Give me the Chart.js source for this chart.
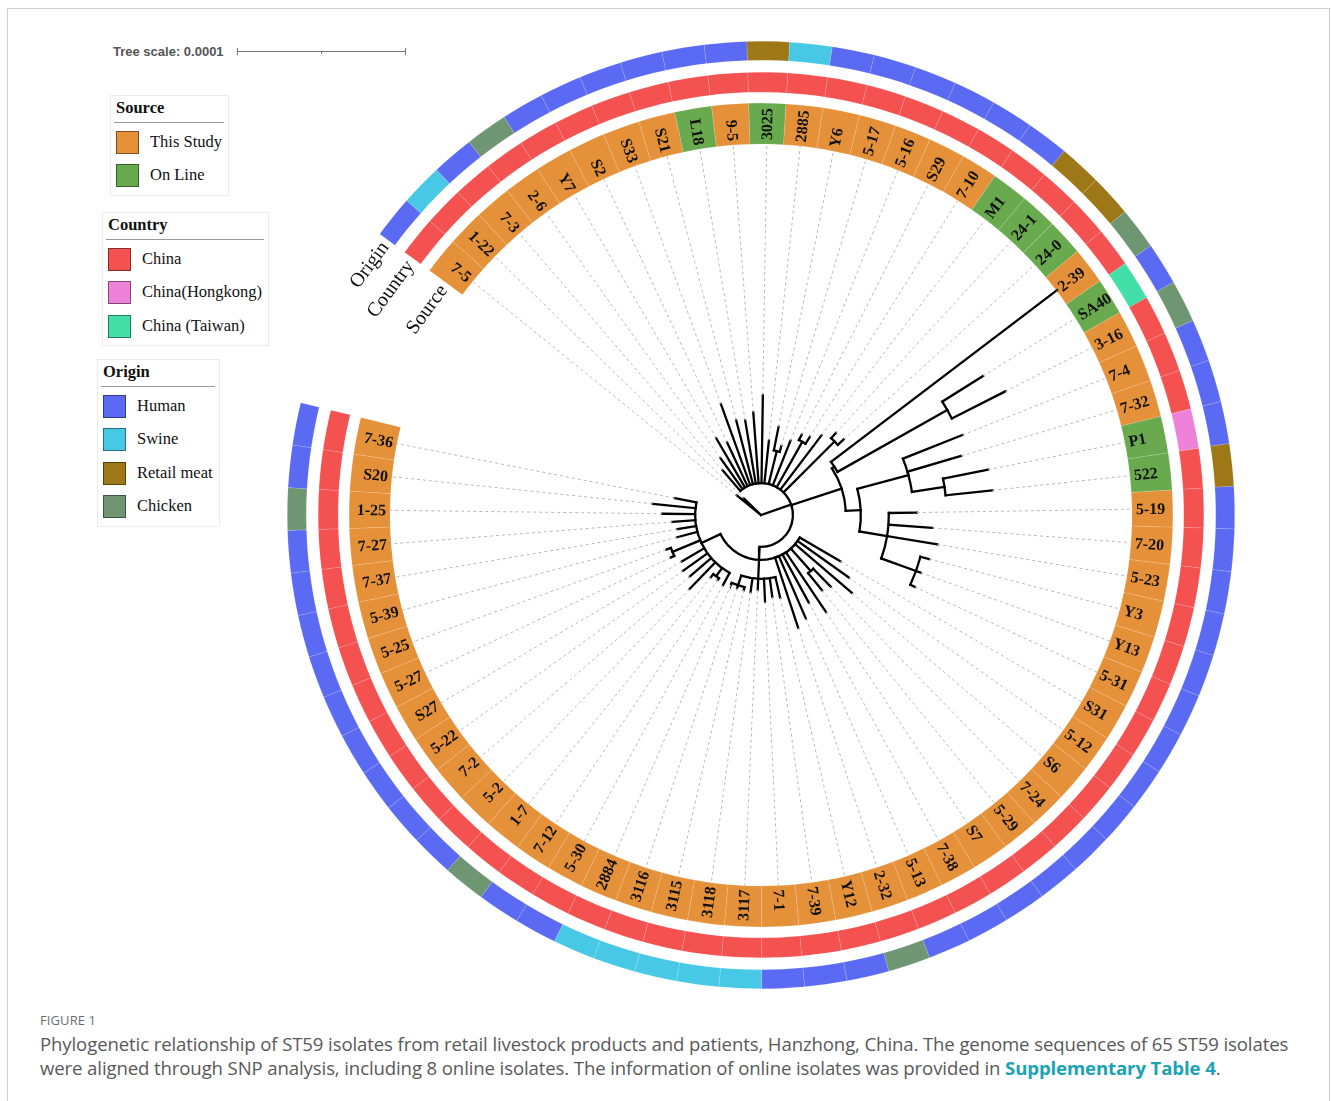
<!DOCTYPE html>
<html>
<head>
<meta charset="utf-8">
<title>ST59 phylogeny</title>
<script src="https://cdn.jsdelivr.net/npm/chart.js@4.4.1/dist/chart.umd.min.js"></script>
<style>
  html, body { margin: 0; padding: 0; background: #fff; }
  #figure { position: relative; width: 1331px; height: 1101px; overflow: hidden; font-family: "Liberation Serif", serif; }
  .frame { position: absolute; left: 7px; top: 8px; width: 1323px; height: 1120px; border: 1px solid #cfcfcf; box-sizing: border-box; }
  canvas { position: absolute; left: 287px; top: 41px; }
  .scale-text { position: absolute; left: 113px; top: 44px; font: bold 13px "Liberation Sans", Arial, sans-serif; color: #555; }
  .scale-bar { position: absolute; left: 237px; top: 51px; height: 0; border-top: 1.4px solid #777; }
  .scale-bar i { position: absolute; top: -4px; width: 0; height: 7px; border-left: 1.4px solid #777; }
  .scale-bar i.mid { top: -1px; height: 3px; }
  .legend { position: absolute; border: 1px solid #ececec; background: #fff; }
  .legend .title { position: absolute; left: 5px; top: 2px; font-weight: bold; font-size: 16.5px; line-height: 20px; color: #111; }
  .legend .rule { position: absolute; left: 3px; right: 4px; top: 26px; border-top: 1.5px solid #9a9a9a; }
  .legend .item { position: absolute; left: 5px; height: 23px; line-height: 23px; font-size: 16.5px; color: #111; white-space: nowrap; }
  .legend .sw { position: absolute; left: 0; top: 0; width: 21px; height: 21px; border: 1px solid rgba(0,0,0,0.45); }
  .legend .lab { position: absolute; left: 34px; top: -1px; }
  .caption { position: absolute; left: 40px; top: 1010px; width: 1280px; font-family: "Open Sans", "Noto Sans", sans-serif; color: #595959; }
  .caption .fig { font-size: 13px; letter-spacing: 0.1px; color: #6e6e6e; line-height: 20px; }
  .caption p { margin: 2px 0 0; font-size: 18.6px; line-height: 24px; letter-spacing: -0.12px; white-space: nowrap; }
  .caption a { color: #1aa3b3; font-weight: bold; text-decoration: none; }
</style>
</head>
<body>
<div id="figure">
  <div class="frame"></div>
  <div class="scale-text">Tree scale: 0.0001</div>
  <div class="scale-bar" id="scaleBar"><i style="left:0"></i><i class="mid" id="scaleMid"></i><i id="scaleEnd"></i></div>
  <div class="legend" id="legSource" style="left:110px;top:95px;width:117px;height:99px;"></div>
  <div class="legend" id="legCountry" style="left:102px;top:212px;width:165px;height:132px;"></div>
  <div class="legend" id="legOrigin" style="left:97px;top:359px;width:121px;height:166px;"></div>
  <canvas id="rings" width="948" height="948"></canvas>
  <canvas id="tree" width="948" height="948"></canvas>
  <div class="caption">
    <div class="fig">FIGURE 1</div>
    <p>Phylogenetic relationship of ST59 isolates from retail livestock products and patients, Hanzhong, China. The genome sequences of 65 ST59 isolates<br>were aligned through SNP analysis, including 8 online isolates. The information of online isolates was provided in <a>Supplementary Table 4</a>.</p>
  </div>
</div>
<script>
// isolates, clockwise from the start of the rings
const ISOLATES = [
  '7-5', '1-22', '7-3', '2-6', 'Y7', 'S2', 'S33', 'S21', 'L18', '9-5',
  '3025', '2885', 'Y6', '5-17', '5-16', 'S29', '7-10', 'M1', '24-1', '24-0',
  '2-39', 'SA40', '3-16', '7-4', '7-32', 'P1', '522', '5-19', '7-20', '5-23',
  'Y3', 'Y13', '5-31', 'S31', '5-12', 'S6', '7-24', '5-29', 'S7', '7-38',
  '5-13', '2-32', 'Y12', '7-39', '7-1', '3117', '3118', '3115', '3116', '2884',
  '5-30', '7-12', '1-7', '5-2', '7-2', '5-22', 'S27', '5-27', '5-25', '5-39',
  '7-37', '7-27', '1-25', 'S20', '7-36'
];

// annotation categories
const SOURCE_TYPES = ['This Study', 'On Line'];
const SOURCE_COLORS = ['#e5913a', '#6aaa4f'];
const COUNTRY_TYPES = ['China', 'China(Hongkong)', 'China (Taiwan)'];
const COUNTRY_COLORS = ['#f45151', '#ee82d8', '#42dfa9'];
const ORIGIN_TYPES = ['Human', 'Swine', 'Retail meat', 'Chicken'];
const ORIGIN_COLORS = ['#5a6af2', '#47c9e5', '#9e7716', '#6f9673'];

// isolates that differ from the first category of each annotation
const ONLINE = ['L18', '3025', 'M1', '24-1', '24-0', 'SA40', 'P1', '522'];
const HONGKONG = ['P1'];
const TAIWAN = ['SA40'];
const SWINE = ['1-22', '2885', '3117', '3118', '3115', '3116', '2884'];
const RETAIL_MEAT = ['3025', '24-1', '24-0', '522'];
const CHICKEN = ['2-6', '2-39', '3-16', '2-32', '1-7', '1-25'];

// tree: leaf = [name, length], node = [length, children]; lengths in 1e-6 subst./site
const TREE = [0, [
  ['7-5', 18.5],
  ['1-22', 14.3],
  [19.0, [
    ['7-3', 16.1], ['2-6', 22.6], ['Y7', 33.9], ['S2', 28.6], ['S33', 51.2],
    ['S21', 39.3], ['L18', 38.1], ['9-5', 42.3], ['3025', 52.4], ['2885', 25.6],
    [20.2, [['Y6', 14.3], ['5-17', 3.6]]],
    ['5-16', 28.6],
    [31.0, [['S29', 3.6], ['7-10', 4.8]]],
    ['M1', 40.5],
    [42.9, [['24-1', 4.2], ['24-0', 4.8]]],
    [31.5, [
      [1.8, [['2-39', 169.0], [75.0, [['SA40', 28.6], ['3-16', 35.7]]]]],
      [8.9, [
        [31.5, [['7-4', 38.1], ['7-32', 33.3], [19.6, [['P1', 27.4], ['522', 28.0]]]]],
        [16.7, [['5-19', 16.7], ['7-20', 26.2], ['5-23', 30.4],
                [22.0, [['Y3', 5.4], ['Y13', 3.0], ['5-31', 3.0]]]]]
      ]]
    ]],
    [7.7, [
      ['S31', 28.0], ['5-12', 37.5], ['S6', 44.6],
      [17.9, [['7-24', 14.9], ['5-29', 13.1]]],
      ['S7', 42.9], ['7-38', 32.7], ['5-13', 40.5], ['2-32', 44.0],
      [11.3, [['Y12', 12.5], ['7-39', 11.3], ['7-1', 13.7], ['3117', 6.5], ['3118', 8.3],
              [6.0, [['3115', 1.8], ['3116', 1.8], ['2884', 1.2]]]]],
      [12.5, [['5-30', 8.3], [6.0, [['7-12', 1.2], ['1-7', 2.4]]], ['5-2', 22.0], ['7-2', 16.7],
              ['5-22', 17.9], ['S27', 15.5], [17.9, [['5-27', 2.4], ['5-25', 3.0]]], ['5-39', 12.5],
              ['7-37', 11.3], ['7-27', 13.7], ['1-25', 19.6], ['S20', 25.6], ['7-36', 13.1]]]
    ]]
  ]]
]];

// ring layout
const ROTATION = -53.6;       // degrees clockwise from 12 o'clock
const CIRCUMFERENCE = 337.3;  // leaves a gap for the ring titles
const RING_TITLES = ['Origin', '', 'Country', '', 'Source'];
const PX_PER_UNIT = 1.68;     // 0.0001 = 100 units = 168 px
const RING_INNER_PX = 371;
const HALF = 474;

const pick = (colors, typeOf) => ISOLATES.map((name) => colors[typeOf(name)]);
const sourceColors = pick(SOURCE_COLORS, (n) => (ONLINE.includes(n) ? 1 : 0));
const countryColors = pick(COUNTRY_COLORS, (n) => (HONGKONG.includes(n) ? 1 : TAIWAN.includes(n) ? 2 : 0));
const originColors = pick(ORIGIN_COLORS, (n) =>
  SWINE.includes(n) ? 1 : RETAIL_MEAT.includes(n) ? 2 : CHICKEN.includes(n) ? 3 : 0);

// legends
function buildLegend(id, title, types, colors, top0) {
  const box = document.getElementById(id);
  let html = `<div class="title">${title}</div><div class="rule"></div>`;
  types.forEach((t, k) => {
    html += `<div class="item" style="top:${top0 + k * 33.3}px"><span class="sw" style="background:${colors[k]}"></span><span class="lab">${t}</span></div>`;
  });
  box.innerHTML = html;
}
buildLegend('legSource', 'Source', SOURCE_TYPES, SOURCE_COLORS, 35);
buildLegend('legCountry', 'Country', COUNTRY_TYPES, COUNTRY_COLORS, 35);
buildLegend('legOrigin', 'Origin', ORIGIN_TYPES, ORIGIN_COLORS, 35);

const barLen = 100 * PX_PER_UNIT;
document.getElementById('scaleBar').style.width = barLen + 'px';
document.getElementById('scaleMid').style.left = barLen / 2 + 'px';
document.getElementById('scaleEnd').style.left = barLen + 'px';

// leaf labels and ring titles on the annotation rings
const ringText = {
  id: 'ringText',
  afterDatasetsDraw(chart) {
    const ctx = chart.ctx;
    const labelArcs = chart.getDatasetMeta(4).data;
    ctx.save();
    ctx.fillStyle = '#111';
    ctx.textBaseline = 'middle';
    ctx.font = 'bold 16px "Liberation Serif", serif';
    labelArcs.forEach((arc, i) => {
      const mid = (arc.startAngle + arc.endAngle) / 2;
      const flip = Math.cos(mid) < 0;
      ctx.save();
      ctx.translate(arc.x, arc.y);
      ctx.rotate(flip ? mid + Math.PI : mid);
      ctx.textAlign = flip ? 'right' : 'left';
      ctx.fillText(ISOLATES[i], flip ? -(arc.innerRadius + 4) : arc.innerRadius + 4, 1);
      ctx.restore();
    });
    ctx.font = '20px "Liberation Serif", serif';
    ctx.textAlign = 'right';
    RING_TITLES.forEach((title, d) => {
      if (!title) return;
      const arc = chart.getDatasetMeta(d).data[0];
      const r = (arc.innerRadius + arc.outerRadius) / 2;
      const a = arc.startAngle;
      ctx.save();
      ctx.translate(arc.x + r * Math.cos(a), arc.y + r * Math.sin(a));
      ctx.rotate(a + Math.PI / 2);
      ctx.fillText(title, -5, 1);
      ctx.restore();
    });
    ctx.restore();
  }
};

const ringSet = (colors, weight) => ({
  data: ISOLATES.map(() => 1),
  backgroundColor: colors,
  borderColor: 'rgba(255,255,255,0.2)',
  borderWidth: 0.6,
  weight
});
const spacer = (weight) => ({
  data: ISOLATES.map(() => 1),
  backgroundColor: 'rgba(0,0,0,0)',
  borderWidth: 0,
  weight
});

new Chart(document.getElementById('rings'), {
  type: 'doughnut',
  data: {
    labels: ISOLATES,
    datasets: [
      ringSet(originColors, 19),
      spacer(12),
      ringSet(countryColors, 20),
      spacer(11),
      ringSet(sourceColors, 41)
    ]
  },
  options: {
    responsive: false,
    animation: false,
    events: [],
    rotation: ROTATION,
    circumference: CIRCUMFERENCE,
    cutout: RING_INNER_PX,
    layout: { padding: 0 },
    plugins: { legend: { display: false }, tooltip: { enabled: false } }
  },
  plugins: [ringText]
});

// tree geometry (chart units, y up)
const branchPts = [];
const leaderPts = [];
const nodeArcs = [];
const GAP = { x: null, y: null };
const toRad = (d) => (d * Math.PI) / 180;
const leafAngle = (i) => toRad(90 - (ROTATION + ((i + 0.5) * CIRCUMFERENCE) / ISOLATES.length));
const polar = (r, a) => ({ x: r * Math.cos(a), y: r * Math.sin(a) });
const ringInner = RING_INNER_PX / PX_PER_UNIT;

function place(node, r0) {
  if (typeof node[0] === 'string') {
    const a = leafAngle(ISOLATES.indexOf(node[0]));
    const r = r0 + node[1];
    branchPts.push(polar(r0, a), polar(r, a), GAP);
    leaderPts.push(polar(r, a), polar(ringInner, a), GAP);
    return a;
  }
  const r = r0 + node[0];
  const angles = node[1].map((child) => place(child, r));
  const first = angles[0];
  const last = angles[angles.length - 1];
  if (r > 0) nodeArcs.push({ r, from: first, to: last });
  const a = (first + last) / 2;
  if (node[0] > 0) branchPts.push(polar(r0, a), polar(r, a), GAP);
  return a;
}
place(TREE, 0);

// internal node arcs, converted through the chart scales
const arcLayer = {
  id: 'arcLayer',
  afterDatasetsDraw(chart) {
    const { ctx, scales: { x, y } } = chart;
    const cx = x.getPixelForValue(0);
    const cy = y.getPixelForValue(0);
    ctx.save();
    ctx.strokeStyle = '#000';
    ctx.lineWidth = 2.3;
    ctx.lineCap = 'square';
    nodeArcs.forEach((n) => {
      const rp = x.getPixelForValue(n.r) - cx;
      ctx.beginPath();
      ctx.arc(cx, cy, rp, -n.from, -n.to, n.to > n.from);
      ctx.stroke();
    });
    ctx.restore();
  }
};

const span = HALF / PX_PER_UNIT;
new Chart(document.getElementById('tree'), {
  type: 'scatter',
  data: {
    datasets: [
      {
        data: leaderPts,
        showLine: true,
        borderColor: '#b9b9b9',
        borderWidth: 1,
        borderDash: [3, 3],
        pointRadius: 0,
        spanGaps: false
      },
      {
        data: branchPts,
        showLine: true,
        borderColor: '#000',
        borderWidth: 2.3,
        borderCapStyle: 'square',
        pointRadius: 0,
        spanGaps: false
      }
    ]
  },
  options: {
    responsive: false,
    animation: false,
    events: [],
    layout: { padding: 0 },
    scales: {
      x: { type: 'linear', min: -span, max: span, display: false },
      y: { type: 'linear', min: -span, max: span, display: false }
    },
    plugins: { legend: { display: false }, tooltip: { enabled: false } }
  },
  plugins: [arcLayer]
});
</script>
</body>
</html>
